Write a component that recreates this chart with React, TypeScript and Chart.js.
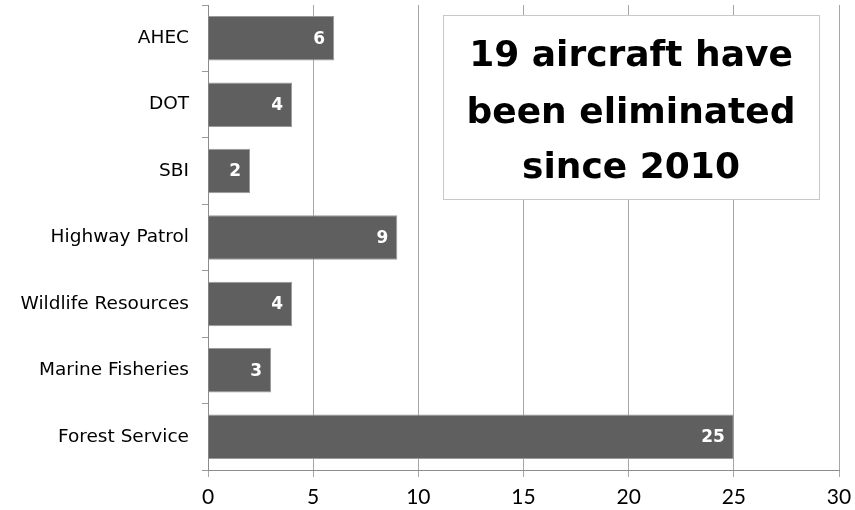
import React, { useEffect, useRef } from "react";
import { Chart, registerables } from "chart.js";

Chart.register(...registerables);

const agencies = [
  "AHEC",
  "DOT",
  "SBI",
  "Highway Patrol",
  "Wildlife Resources",
  "Marine Fisheries",
  "Forest Service",
];
const aircraftEliminated = [6, 4, 2, 9, 4, 3, 25];
const calloutLines = ["19 aircraft have", "been eliminated", "since 2010"];

const LABEL_FONT = "'DejaVu Sans', sans-serif";
const NUM_FONT = "Lato, 'Open Sans', sans-serif";

// White labels at the inner end of each bar
const barValueLabels = {
  id: "barValueLabels",
  afterDatasetsDraw(chart: any) {
    const { ctx } = chart;
    const meta = chart.getDatasetMeta(0);
    ctx.save();
    ctx.fillStyle = "#ffffff";
    ctx.font = `bold 17px ${LABEL_FONT}`;
    ctx.textAlign = "right";
    ctx.textBaseline = "middle";
    meta.data.forEach((bar: any, i: number) => {
      ctx.fillText(String(aircraftEliminated[i]), bar.x - 9, bar.y + 1);
    });
    ctx.restore();
  },
};

// Boxed callout in the upper right of the plot
const calloutBox = {
  id: "calloutBox",
  afterDraw(chart: any) {
    const { ctx } = chart;
    const left = 443;
    const top = 15;
    const width = 376;
    const height = 184;
    ctx.save();
    ctx.fillStyle = "#ffffff";
    ctx.fillRect(left, top, width, height);
    ctx.strokeStyle = "#c8c8c8";
    ctx.lineWidth = 1;
    ctx.strokeRect(left + 0.5, top + 0.5, width, height);
    ctx.fillStyle = "#000000";
    ctx.font = `bold 36px ${LABEL_FONT}`;
    ctx.textAlign = "center";
    ctx.textBaseline = "alphabetic";
    const cx = left + width / 2;
    const baselines = [66, 123, 178];
    calloutLines.forEach((line, i) => {
      ctx.fillText(line, cx, baselines[i]);
    });
    ctx.restore();
  },
};

export default function App() {
  const canvasRef = useRef<HTMLCanvasElement | null>(null);

  useEffect(() => {
    if (!canvasRef.current) return;
    const chart = new Chart(canvasRef.current, {
      type: "bar",
      data: {
        labels: agencies,
        datasets: [
          {
            data: aircraftEliminated,
            backgroundColor: "#5f5f5f",
            borderColor: "#9a9a9a",
            borderWidth: 1,
            barPercentage: 0.67,
            categoryPercentage: 1,
          },
        ],
      },
      options: {
        indexAxis: "y",
        animation: false,
        responsive: false,
        maintainAspectRatio: false,
        layout: { padding: { top: 5, right: 16, left: 0, bottom: 0 } },
        plugins: {
          legend: { display: false },
          tooltip: { enabled: false },
        },
        scales: {
          x: {
            min: 0,
            max: 30,
            ticks: {
              stepSize: 5,
              color: "#000000",
              font: { family: NUM_FONT, size: 21 },
              padding: 8,
            },
            grid: {
              color: "#a6a6a6",
              tickLength: 7,
              drawTicks: true,
            },
            border: { color: "#8c8c8c" },
            afterFit(scale: any) {
              scale.height = 40;
              scale.paddingLeft = 0;
              scale.paddingRight = 0;
            },
          },
          y: {
            ticks: {
              color: "#000000",
              font: { family: LABEL_FONT, size: 18.5 },
              padding: 13,
            },
            grid: {
              drawOnChartArea: false,
              drawTicks: true,
              tickLength: 6,
              color: "#9a9a9a",
            },
            border: { color: "#8c8c8c" },
            afterFit(scale: any) {
              scale.width = 208;
              scale.paddingTop = 0;
              scale.paddingBottom = 0;
            },
          },
        },
      },
      plugins: [barValueLabels, calloutBox],
    });
    return () => chart.destroy();
  }, []);

  return (
    <div style={{ position: "fixed", left: 0, top: 0, width: 855, height: 510, background: "#ffffff" }}>
      <canvas ref={canvasRef} width={855} height={510} style={{ display: "block" }} />
    </div>
  );
}
